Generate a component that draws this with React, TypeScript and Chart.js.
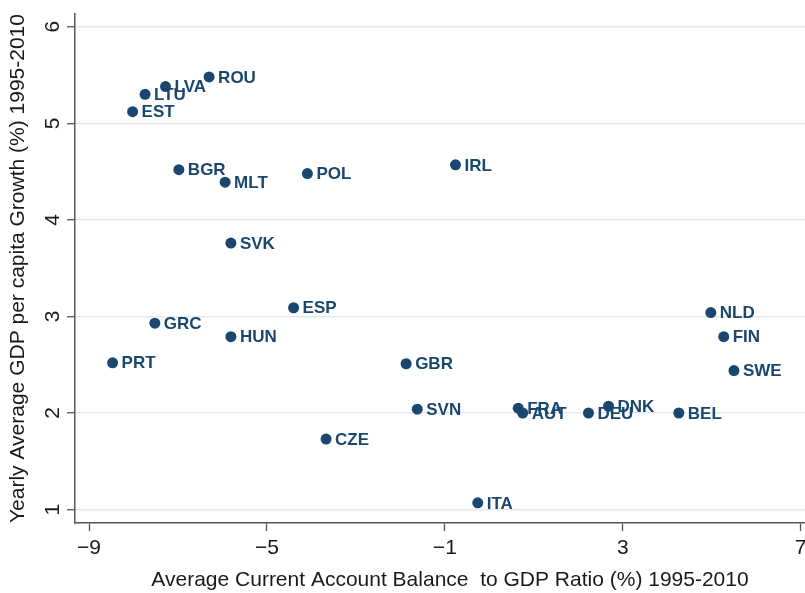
import React, { useEffect, useRef } from "react";
import { Chart, registerables } from "chart.js";

Chart.register(...registerables);

const countries = [
  "ROU", "LVA", "LTU", "EST", "BGR", "MLT", "POL", "IRL", "SVK", "ESP",
  "GRC", "HUN", "PRT", "GBR", "SVN", "FRA", "AUT", "DEU", "DNK", "ITA",
  "CZE", "NLD", "FIN", "SWE", "BEL",
];
const currentAccount = [
  -6.30, -7.28, -7.74, -8.02, -6.98, -5.94, -4.09, -0.76, -5.81, -4.40,
  -7.52, -5.81, -8.47, -1.87, -1.62, 0.65, 0.75, 2.23, 2.68, -0.26,
  -3.67, 4.98, 5.27, 5.50, 4.26,
];
const gdpGrowth = [
  5.48, 5.38, 5.30, 5.12, 4.52, 4.39, 4.48, 4.57, 3.76, 3.09,
  2.93, 2.79, 2.52, 2.51, 2.04, 2.05, 2.00, 2.00, 2.07, 1.07,
  1.73, 3.04, 2.79, 2.44, 2.00,
];
const xTickValues = [-9, -5, -1, 3, 7];
const yTickValues = [1, 2, 3, 4, 5, 6];
const xTitle = "Average Current Account Balance  to GDP Ratio (%) 1995-2010";
const yTitle = "Yearly Average GDP per capita Growth (%) 1995-2010";

const NAVY = "#1a476f";
const FONT = "'Liberation Sans', Arial, sans-serif";

const labelPlugin = {
  id: "pointLabels",
  afterDatasetsDraw(chart: any) {
    const ctx = chart.ctx;
    const meta = chart.getDatasetMeta(0);
    ctx.save();
    ctx.font = `bold 17px ${FONT}`;
    ctx.fillStyle = NAVY;
    ctx.textAlign = "left";
    ctx.textBaseline = "middle";
    meta.data.forEach((pt: any, i: number) => {
      ctx.fillText(countries[i], pt.x + 9, pt.y + 1);
    });
    ctx.restore();
  },
};

export default function App() {
  const ref = useRef<HTMLCanvasElement>(null);
  useEffect(() => {
    document.body.style.margin = "0";
    const canvas = ref.current!;
    Chart.defaults.font.family = FONT;
    const chart = new Chart(canvas, {
      type: "scatter",
      data: {
        datasets: [
          {
            data: currentAccount.map((x, i) => ({ x, y: gdpGrowth[i] })),
            backgroundColor: NAVY,
            borderColor: NAVY,
            pointRadius: 5.5,
            pointHoverRadius: 5.5,
            borderWidth: 0,
          },
        ],
      },
      options: {
        animation: false,
        responsive: false,
        devicePixelRatio: 1,
        layout: { autoPadding: false, padding: { top: 14, left: 0, right: 0, bottom: 0 } },
        plugins: { legend: { display: false }, tooltip: { enabled: false } },
        scales: {
          x: {
            type: "linear",
            min: -9.315,
            max: 7.547,
            afterBuildTicks: (s: any) => {
              s.ticks = xTickValues.map((v) => ({ value: v }));
            },
            afterFit: (s: any) => {
              s.height = 70;
              s.paddingLeft = 0;
              s.paddingRight = 0;
            },
            ticks: {
              color: "#1a1a1a",
              font: { size: 21 },
              padding: 5,
              maxRotation: 0,
              minRotation: 0,
              callback: (v: any) => String(v).replace("-", "\u2212"),
            },
            grid: {
              drawOnChartArea: false,
              drawTicks: true,
              tickLength: 8,
              tickColor: "#555",
              tickWidth: 1.3,
            },
            border: { display: true, color: "#555", width: 1.5 },
            title: {
              display: true,
              text: xTitle,
              color: "#1a1a1a",
              font: { size: 21 },
              padding: { top: 5, bottom: 0 },
            },
          },
          y: {
            type: "linear",
            min: 0.861,
            max: 6.132,
            afterBuildTicks: (s: any) => {
              s.ticks = yTickValues.map((v) => ({ value: v }));
            },
            afterFit: (s: any) => {
              s.width = 75;
              s.paddingTop = 0;
              s.paddingBottom = 0;
            },
            ticks: {
              color: "#1a1a1a",
              font: { size: 21 },
              padding: 8,
              minRotation: 90,
              maxRotation: 90,
              crossAlign: "center",
            },
            grid: {
              drawOnChartArea: true,
              color: "#e3ecec",
              lineWidth: 1.5,
              tickLength: 8,
              tickColor: "#555",
              tickWidth: 1.3,
            },
            border: { display: true, color: "#555", width: 1.5 },
            title: {
              display: true,
              text: yTitle,
              color: "#1a1a1a",
              font: { size: 21 },
              padding: { top: 6, bottom: 0 },
            },
          },
        },
      },
      plugins: [labelPlugin],
    });
    return () => chart.destroy();
  }, []);
  return (
    <div
      style={{
        position: "fixed",
        left: 0,
        top: 0,
        width: 805,
        height: 593,
        overflow: "hidden",
        background: "#fff",
      }}
    >
      <canvas ref={ref} width={825} height={593} style={{ width: 825, height: 593 }} />
    </div>
  );
}
